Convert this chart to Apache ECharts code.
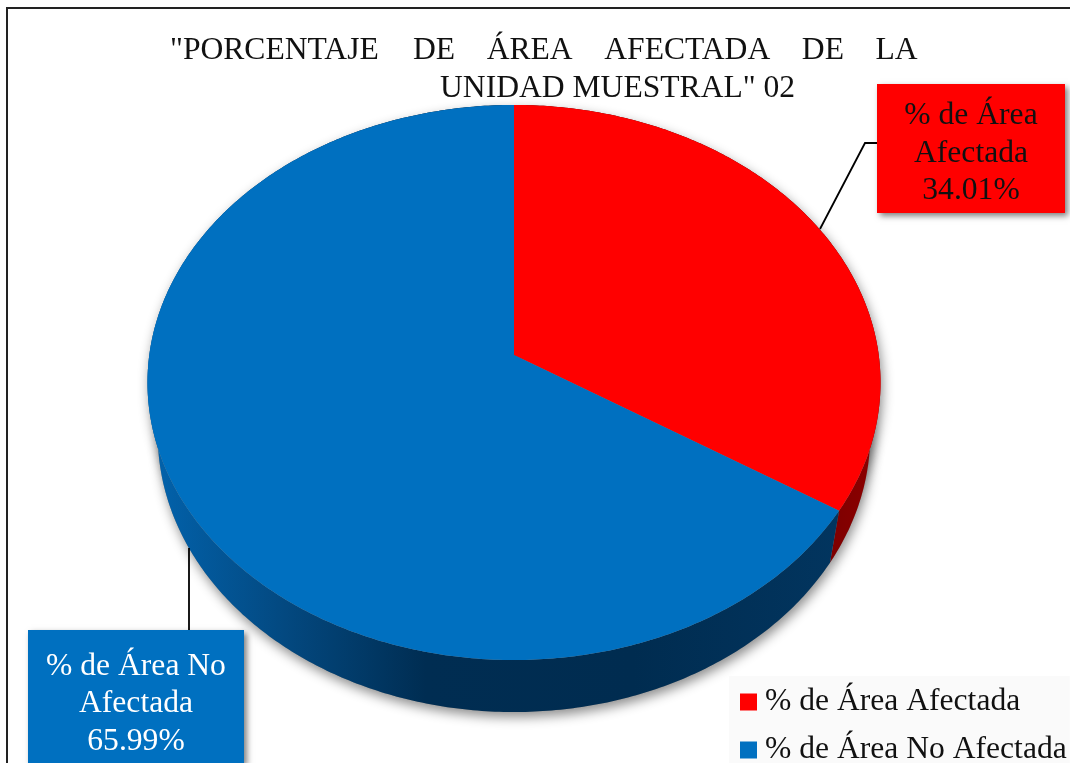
<!DOCTYPE html>
<html><head><meta charset="utf-8">
<style>html,body{margin:0;padding:0;background:#fff}#c{width:1070px;height:763px}</style>
<script src="https://cdn.jsdelivr.net/npm/echarts@6/dist/echarts.min.js"></script>
</head><body><div id="c"></div>
<script>
const categories = ['% de Área Afectada', '% de Área No Afectada'];
const values = [34.01, 65.99];
const labelLines = [['% de Área', 'Afectada'], ['% de Área No', 'Afectada']];
const sp = '\u00a0\u00a0\u00a0\u00a0';
const titleLine1 = '"PORCENTAJE\u200a' + ['', 'DE', 'ÁREA', 'AFECTADA', 'DE', 'LA'].join(sp);
const titleLine2 = 'UNIDAD MUESTRAL" 02';

const FONT = '"Liberation Serif","Times New Roman",serif';
const FS = 31.6;
const total = values.reduce((a, b) => a + b, 0);
// perspective disc: apex, radii and tilt of the drawn pie
const G = { cx: 514, cy: 355, bx: 364.7, ay: 274.8, p: 0.0991, depth: 52, shrink: 0.972 };
function rim(theta, lower) {
  const u = Math.sin(theta), v = Math.cos(theta), w = 1 + G.p * v;
  const k = lower ? G.shrink : 1;
  return [G.cx + k * G.bx * u / w, G.cy + (lower ? G.depth : 0) - G.ay * v / w];
}
function arc(a0, a1, lower) {
  const out = [], n = Math.max(2, Math.ceil((a1 - a0) * 90));
  for (let i = 0; i <= n; i++) out.push(rim(a0 + (a1 - a0) * i / n, lower));
  return out;
}
const wallFill = [
  { type: 'linear', x: 820, y: 0, x2: 885, y2: 0, global: true,
    colorStops: [{ offset: 0, color: '#7a0000' }, { offset: 1, color: '#8f0000' }] },
  { type: 'linear', x: 150, y: 0, x2: 840, y2: 0, global: true,
    colorStops: [{ offset: 0, color: '#0263ad' }, { offset: 0.2, color: '#03487f' }, { offset: 0.4, color: '#002d52' },
                 { offset: 0.7, color: '#002c50' }, { offset: 1, color: '#02355f' }] }
];
const boxes = [
  { x: 877, y: 84, w: 188, h: 129, ty: 69.5, ink: '#111', line: [[820, 229], [865, 143], [877, 143]] },
  { x: 28, y: 630, w: 216, h: 133, ty: 74, ink: '#fff', line: [[189, 548], [189, 630]] }
];
const shadow = { shadowBlur: 12, shadowColor: 'rgba(0,0,0,0.45)', shadowOffsetX: 2, shadowOffsetY: 5 };

function renderSlice(i) {
  return function (params, api) {
    const before = values.slice(0, i).reduce((a, b) => a + b, 0);
    const a0 = before / total * 2 * Math.PI;
    const a1 = (before + api.value(0)) / total * 2 * Math.PI;
    const color = api.visual('color');
    const top = arc(a0, a1, false), low = arc(a0, a1, true);
    const apex = [G.cx, G.cy];
    const b = boxes[i];
    const text = labelLines[i].concat(api.value(0).toFixed(2) + '%').join('\n');
    return { type: 'group', children: [
      { type: 'polygon', z2: 0, shape: { points: [apex].concat(top) }, style: Object.assign({ fill: '#888' }, shadow) },
      { type: 'polygon', z2: 0, shape: { points: [[apex[0], apex[1] + G.depth]].concat(low) }, style: Object.assign({ fill: '#888' }, shadow) },
      { type: 'polygon', z2: 1, shape: { points: top.concat(low.slice().reverse()) }, style: { fill: wallFill[i] } },
      { type: 'polygon', z2: 2, shape: { points: [apex].concat(top) }, style: { fill: color } },
      { type: 'polyline', z2: 3, shape: { points: b.line }, style: { stroke: '#000', lineWidth: 1.8, fill: null } },
      { type: 'rect', z2: 4, shape: { x: b.x, y: b.y, width: b.w, height: b.h },
        style: { fill: color, shadowBlur: 6, shadowColor: 'rgba(0,0,0,0.5)', shadowOffsetX: 3, shadowOffsetY: 3 } },
      { type: 'text', z2: 5, x: b.x + b.w / 2, y: b.y + b.ty,
        style: { text: text, fill: b.ink, font: FS + 'px ' + FONT, lineHeight: 37.5, align: 'center', verticalAlign: 'middle' } }
    ] };
  };
}

const chart = echarts.init(document.getElementById('c'), null, { renderer: 'canvas' });
const titleStyle = { fontFamily: FONT, fontSize: FS, fontWeight: 'normal', color: '#111' };
chart.setOption({
  animation: false,
  backgroundColor: '#fff',
  title: [
    { text: titleLine1, left: 170, top: 35, padding: 0, textStyle: titleStyle },
    { text: titleLine2, left: 440, top: 73, padding: 0, textStyle: titleStyle }
  ],
  legend: { orient: 'vertical', left: 729, top: 676, width: 341, height: 140, padding: [10, 3, 9, 11], backgroundColor: '#fafafa',
    itemWidth: 17, itemHeight: 17, itemGap: 16, selectedMode: false, icon: 'rect', data: categories,
    textStyle: { fontFamily: FONT, fontSize: FS, color: '#111', lineHeight: 20, padding: [0, 0, 0, 3] } },
  graphic: [{ type: 'polyline', silent: true, shape: { points: [[7, 763], [7, 8], [1070, 8]] }, style: { stroke: '#222', lineWidth: 2, fill: null } }],
  series: categories.map((name, i) => ({
    type: 'custom', name: name, coordinateSystem: 'none', silent: true,
    itemStyle: { color: ['#ff0000', '#0070c0'][i] },
    renderItem: renderSlice(i),
    data: [{ name: name, value: [values[i]] }]
  }))
});
</script></body></html>
